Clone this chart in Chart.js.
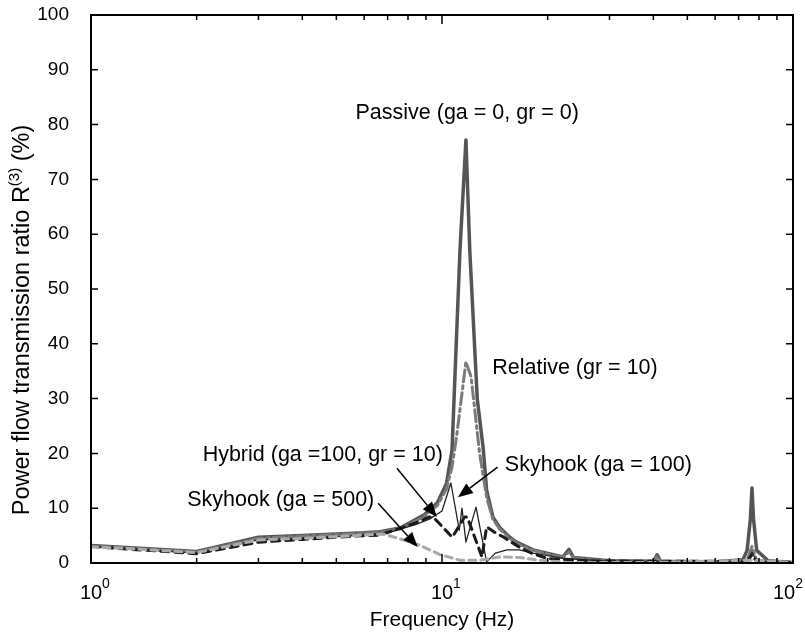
<!DOCTYPE html>
<html>
<head>
<meta charset="utf-8">
<script src="https://cdn.jsdelivr.net/npm/chart.js@4.4.0/dist/chart.umd.min.js"></script>
<style>
    body { margin: 0; background: #fff; }
</style>
</head>
<body>
<canvas id="myChart" width="805" height="637"></canvas>
<script>
// frequencies (Hz) and ratio values (%)
const passive_freq = [1, 2, 3, 4, 5, 6, 6.65, 7.6, 8.9, 9.7, 10.3, 10.68, 11.25, 11.7, 12.0, 12.6, 13.1, 13.4, 13.96, 14.6, 15.6, 16.3, 18.2, 22.1, 23, 23.7, 30, 40, 41, 42, 60, 72, 74, 75.6, 76.4, 77.2, 78.8, 85, 100];
const passive_vals = [3.2, 2.1, 4.7, 5.0, 5.3, 5.5, 5.7, 6.4, 8.8, 11.0, 14.5, 20.6, 57, 77.2, 57, 30, 21, 13.3, 8.4, 6.5, 4.7, 3.8, 2.4, 1.1, 2.5, 1.0, 0.4, 0.3, 1.5, 0.3, 0.2, 0.6, 2.3, 8, 13.7, 8, 2.3, 0.4, 0.1];

const relative_freq = [1, 2, 3, 4, 5, 6, 6.65, 7.6, 8.9, 9.7, 10.3, 10.68, 11.0, 11.7, 12.1, 12.8, 13.4, 13.96, 14.6, 15.6, 16.3, 18.2, 22.1, 23, 23.7, 30, 40, 41, 42, 60, 74, 76.4, 78.8, 100];
const relative_vals = [3.1, 2.0, 4.5, 4.9, 5.2, 5.4, 5.6, 6.2, 8.5, 10.5, 13.5, 17.5, 23, 36.7, 34, 20, 12, 8, 6.2, 4.5, 3.6, 2.3, 1.0, 2.0, 0.9, 0.3, 0.3, 1.2, 0.3, 0.2, 0.5, 3, 0.5, 0.1];

const hybrid_freq = [1, 2, 3, 4, 5, 6, 7, 8.4, 9.2, 10.0, 10.6, 11.2, 11.4, 11.7, 12.5, 13.4, 14.2, 15.3, 16.6, 18.2, 22, 30, 74, 76.4, 78.8, 100];
const hybrid_vals = [3.0, 1.8, 4.2, 4.6, 4.8, 5.1, 5.5, 7.0, 8.0, 9.5, 14.6, 6.0, 10.0, 3.8, 10.2, 0.2, 1.8, 2.4, 2.4, 1.8, 0.9, 0.3, 0.3, 2.0, 0.3, 0.1];

const skyhook100_freq = [1, 2, 3, 4, 5, 6, 6.65, 8.4, 9.2, 9.5, 10.7, 11.6, 11.8, 13.0, 13.4, 14.2, 15.0, 16.5, 18, 20, 25, 40, 74, 76.4, 78.8, 100];
const skyhook100_vals = [3.0, 1.7, 3.8, 4.3, 4.7, 5.0, 5.1, 7.3, 8.4, 8.2, 4.7, 8.4, 8.4, 1.1, 6.6, 5.5, 4.7, 3.0, 1.8, 0.8, 0.4, 0.3, 0.3, 1.5, 0.3, 0.1];

const skyhook500_freq = [1, 2, 3, 4, 5, 6, 6.8, 7.6, 8.6, 9.9, 11.25, 12.8, 14.6, 16.6, 19, 22.7, 40, 76.4, 100];
const skyhook500_vals = [3.0, 1.9, 4.2, 4.5, 4.8, 5.1, 5.3, 4.4, 3.3, 1.5, 0.5, 0.5, 1.1, 1.0, 0.5, 0.1, 0.1, 0.5, 0.1];

const y_ticks = [0, 10, 20, 30, 40, 50, 60, 70, 80, 90, 100];
const x_major = [1, 10, 100];
const x_major_labels = ['0', '1', '2'];
const x_minor = [2, 3, 4, 5, 6, 7, 8, 9, 20, 30, 40, 50, 60, 70, 80, 90];

// text labels: [text, freq, value, align]
const labels = [
    ['Passive (ga = 0, gr = 0)', 11.8, 82.1, 'center'],
    ['Relative (gr = 10)', 13.9, 35.6, 'left'],
    ['Hybrid (ga =100, gr = 10)', 2.08, 19.7, 'left'],
    ['Skyhook (ga = 100)', 15.1, 17.9, 'left'],
    ['Skyhook (ga = 500)', 1.88, 11.5, 'left']
];
// arrows: [from freq, from value, to freq, to value]
const arrows = [
    [7.44, 17.3, 9.67, 8.4],
    [14.4, 17.5, 11.1, 12.0],
    [6.58, 10.9, 8.53, 2.9]
];

const font_family = "'Liberation Sans', Arial, sans-serif";

function toPoints(freq, vals) {
    return freq.map(function (f, i) { return { x: f, y: vals[i] }; });
}

const extras = {
    id: 'extras',
    afterDraw: function (chart) {
        const ctx = chart.ctx;
        const xs = chart.scales.x;
        const ys = chart.scales.y;
        const a = chart.chartArea;
        ctx.save();

        ctx.strokeStyle = '#000';
        ctx.lineWidth = 2;
        ctx.strokeRect(a.left, a.top, a.right - a.left, a.bottom - a.top);

        ctx.lineWidth = 1.5;
        ctx.beginPath();
        y_ticks.forEach(function (v) {
            const py = ys.getPixelForValue(v);
            ctx.moveTo(a.left, py); ctx.lineTo(a.left + 7, py);
            ctx.moveTo(a.right, py); ctx.lineTo(a.right - 7, py);
        });
        x_minor.forEach(function (f) {
            const px = xs.getPixelForValue(f);
            ctx.moveTo(px, a.bottom); ctx.lineTo(px, a.bottom - 5);
            ctx.moveTo(px, a.top); ctx.lineTo(px, a.top + 5);
        });
        x_major.forEach(function (f) {
            const px = xs.getPixelForValue(f);
            ctx.moveTo(px, a.bottom); ctx.lineTo(px, a.bottom - 9);
            ctx.moveTo(px, a.top); ctx.lineTo(px, a.top + 9);
        });
        ctx.stroke();

        ctx.fillStyle = '#000';

        // y tick labels
        ctx.font = '19px ' + font_family;
        ctx.textAlign = 'right';
        ctx.textBaseline = 'middle';
        y_ticks.forEach(function (v) {
            ctx.fillText(String(v), a.left - 22, ys.getPixelForValue(v));
        });

        // x tick labels: "10" with exponent, kept inside the canvas
        ctx.textBaseline = 'alphabetic';
        ctx.textAlign = 'left';
        x_major.forEach(function (f, i) {
            const px = xs.getPixelForValue(f);
            ctx.font = '20px ' + font_family;
            const w1 = ctx.measureText('10').width;
            ctx.font = '14px ' + font_family;
            const w2 = ctx.measureText(x_major_labels[i]).width;
            let x0 = px - w1 / 2;
            if (x0 + w1 + w2 > chart.width - 2) {
                x0 = chart.width - 2 - w1 - w2;
            }
            ctx.font = '20px ' + font_family;
            ctx.fillText('10', x0, a.bottom + 36);
            ctx.font = '14px ' + font_family;
            ctx.fillText(x_major_labels[i], x0 + w1, a.bottom + 25);
        });

        // axis titles
        ctx.font = '21px ' + font_family;
        ctx.textAlign = 'center';
        ctx.fillText('Frequency (Hz)', (a.left + a.right) / 2, a.bottom + 63);

        ctx.save();
        ctx.translate(29, 320);
        ctx.rotate(-Math.PI / 2);
        const part1 = 'Power flow transmission ratio R';
        const sup = '(3)';
        const part2 = ' (%)';
        ctx.font = '23.5px ' + font_family;
        const p1 = ctx.measureText(part1).width;
        const p2 = ctx.measureText(part2).width;
        ctx.font = '15px ' + font_family;
        const ps = ctx.measureText(sup).width;
        let tx = -(p1 + ps + p2) / 2;
        ctx.textAlign = 'left';
        ctx.font = '23.5px ' + font_family;
        ctx.fillText(part1, tx, 0);
        ctx.font = '15px ' + font_family;
        ctx.fillText(sup, tx + p1, -10);
        ctx.font = '23.5px ' + font_family;
        ctx.fillText(part2, tx + p1 + ps, 0);
        ctx.restore();

        // annotations
        ctx.font = '21.5px ' + font_family;
        ctx.textBaseline = 'middle';
        labels.forEach(function (l) {
            ctx.textAlign = l[3];
            ctx.fillText(l[0], xs.getPixelForValue(l[1]), ys.getPixelForValue(l[2]));
        });

        ctx.lineWidth = 1.5;
        arrows.forEach(function (r) {
            const x1 = xs.getPixelForValue(r[0]), y1 = ys.getPixelForValue(r[1]);
            const x2 = xs.getPixelForValue(r[2]), y2 = ys.getPixelForValue(r[3]);
            const ang = Math.atan2(y2 - y1, x2 - x1);
            const hl = 15, hw = 6;
            const bx = x2 - hl * Math.cos(ang), by = y2 - hl * Math.sin(ang);
            ctx.beginPath();
            ctx.moveTo(x1, y1); ctx.lineTo(bx, by);
            ctx.stroke();
            ctx.beginPath();
            ctx.moveTo(x2, y2);
            ctx.lineTo(bx + hw * Math.sin(ang), by - hw * Math.cos(ang));
            ctx.lineTo(bx - hw * Math.sin(ang), by + hw * Math.cos(ang));
            ctx.closePath();
            ctx.fill();
        });

        ctx.restore();
    }
};

const ctx = document.getElementById("myChart").getContext("2d");

const myChart = new Chart(ctx, {
    type: 'line',
    data: {
        datasets: [
            {
                label: 'Skyhook (ga = 500)',
                data: toPoints(skyhook500_freq, skyhook500_vals),
                borderColor: '#aaaaaa',
                borderWidth: 3,
                borderDash: [7, 5]
            },
            {
                label: 'Skyhook (ga = 100)',
                data: toPoints(skyhook100_freq, skyhook100_vals),
                borderColor: '#1a1a1a',
                borderWidth: 3,
                borderDash: [8, 6]
            },
            {
                label: 'Hybrid (ga =100, gr = 10)',
                data: toPoints(hybrid_freq, hybrid_vals),
                borderColor: '#222222',
                borderWidth: 1.3
            },
            {
                label: 'Relative (gr = 10)',
                data: toPoints(relative_freq, relative_vals),
                borderColor: '#7a7a7a',
                borderWidth: 3,
                borderDash: [12, 4, 3, 4]
            },
            {
                label: 'Passive (ga = 0, gr = 0)',
                data: toPoints(passive_freq, passive_vals),
                borderColor: '#555555',
                borderWidth: 3.5
            }
        ]
    },
    options: {
        responsive: false,
        animation: false,
        layout: { padding: { left: 0, right: 12, top: 15, bottom: 0 } },
        elements: {
            point: { radius: 0 },
            line: { tension: 0, borderJoinStyle: 'round', borderCapStyle: 'round' }
        },
        plugins: {
            legend: { display: false },
            tooltip: { enabled: false }
        },
        scales: {
            x: {
                type: 'logarithmic',
                min: 1,
                max: 100,
                grid: { display: false },
                border: { display: false },
                ticks: { display: false },
                afterFit: function (scale) { scale.height = 74; }
            },
            y: {
                min: 0,
                max: 100,
                grid: { display: false },
                border: { display: false },
                ticks: { display: false, stepSize: 10 },
                afterFit: function (scale) { scale.width = 91; }
            }
        }
    },
    plugins: [extras]
});
</script>
</body>
</html>
